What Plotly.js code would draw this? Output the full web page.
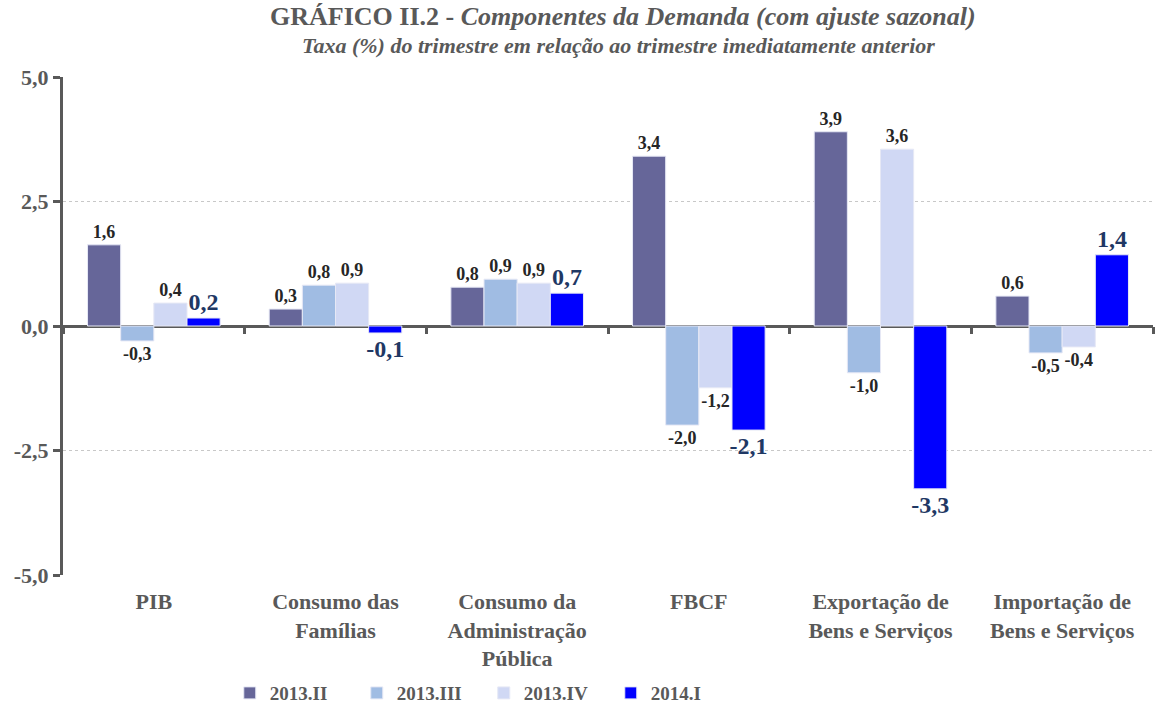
<!DOCTYPE html>
<html>
<head>
<meta charset="utf-8">
<script src="https://cdn.plot.ly/plotly-3.0.1.min.js"></script>
<style>html,body{margin:0;padding:0;background:#fff;}#chart{width:1155px;height:710px;}</style>
</head>
<body>
<div id="chart"></div>
<script>
var categories = ["PIB", "Consumo das<br>Famílias", "Consumo da<br>Administração<br>Pública", "FBCF", "Exportação de<br>Bens e Serviços", "Importação de<br>Bens e Serviços"];
var seriesNames = ["2013.II", "2013.III", "2013.IV", "2014.I"];
var v2013II  = [1.63, 0.34, 0.78, 3.41, 3.90, 0.60];
var v2013III = [-0.30, 0.82, 0.94, -1.99, -0.94, -0.54];
var v2013IV  = [0.46, 0.86, 0.86, -1.24, 3.55, -0.42];
var v2014I   = [0.16, -0.14, 0.66, -2.09, -3.27, 1.43];
var lab2013II  = ["1,6", "0,3", "0,8", "3,4", "3,9", "0,6"];
var lab2013III = ["-0,3", "0,8", "0,9", "-2,0", "-1,0", "-0,5"];
var lab2013IV  = ["0,4", "0,9", "0,9", "-1,2", "3,6", "-0,4"];
var lab2014I   = ["0,2", "-0,1", "0,7", "-2,1", "-3,3", "1,4"];
var yTicks = [-5, -2.5, 0, 2.5, 5];
var yTickLabels = ["-5,0", "-2,5", "0,0", "2,5", "5,0"];
var titleText = "GRÁFICO II.2 - <i>Componentes da Demanda (com ajuste sazonal)</i>";
var subtitleText = "<i>Taxa (%) do trimestre em relação ao trimestre imediatamente anterior</i>";

var colors = ["#666699", "#A0BCE3", "#D0D8F4", "#0000FF"];
var values = [v2013II, v2013III, v2013IV, v2014I];
var labels = [lab2013II, lab2013III, lab2013IV, lab2014I];
var serif = "Liberation Serif, serif";

var traces = values.map(function (v, i) {
  var last = i === 3;
  return {
    type: "bar",
    name: seriesNames[i],
    x: categories,
    y: v,
    text: labels[i],
    textposition: "outside",
    constraintext: "none",
    cliponaxis: false,
    textfont: {family: serif, size: last ? 24 : 18, color: last ? "#1F3864" : "#262626", weight: "bold"},
    marker: {color: colors[i], line: {color: "#E6E8F5", width: 1}},
    hoverinfo: "skip"
  };
});
// helper trace for category ticks on the zero line
traces.push({
  type: "bar", x: categories, y: categories.map(function(){return null;}),
  xaxis: "x2", yaxis: "y", showlegend: false, hoverinfo: "skip"
});

var layout = {
  width: 1155, height: 710,
  margin: {l: 63, r: 2, t: 77, b: 135, autoexpand: false},
  paper_bgcolor: "#fff", plot_bgcolor: "#fff",
  separators: ",.",
  barmode: "group",
  bargap: 0.27,
  bargroupgap: 0,
  showlegend: true,
  annotations: [
    {text: titleText, xref: "paper", yref: "paper", x: 0.514, y: 1.1205, xanchor: "center", yanchor: "middle",
     showarrow: false, font: {family: serif, size: 26, color: "#595959", weight: "bold"}},
    {text: subtitleText, xref: "paper", yref: "paper", x: 0.510, y: 1.064, xanchor: "center", yanchor: "middle",
     showarrow: false, font: {family: serif, size: 22, color: "#595959", weight: "bold"}}
  ],
  xaxis: {
    type: "category",
    showline: false, ticks: "", showgrid: false, zeroline: false,
    tickfont: {family: serif, size: 22, color: "#595959", weight: "bold"},
    ticklabelstandoff: 11,
    automargin: false
  },
  xaxis2: {
    type: "category", overlaying: "x", matches: "x", anchor: "free", position: 0.5,
    side: "bottom", showticklabels: false, showline: false, showgrid: false,
    ticks: "outside", tickson: "boundaries", ticklen: 7, tickwidth: 3, tickcolor: "#595959"
  },
  yaxis: {
    range: [-5, 5],
    tickvals: yTicks, ticktext: yTickLabels,
    showline: true, linecolor: "#595959", linewidth: 3,
    ticks: "outside", ticklen: 7, tickwidth: 3, tickcolor: "#595959",
    showgrid: true, gridcolor: "#C8C8C8", griddash: "dot", gridwidth: 1,
    zeroline: true, zerolinecolor: "#595959", zerolinewidth: 3,
    tickfont: {family: serif, size: 22, color: "#595959", weight: "bold"},
    automargin: false
  },
  legend: {
    orientation: "h", x: 0.153, xanchor: "left", y: -0.237, yanchor: "middle",
    entrywidth: 82, entrywidthmode: "pixels",
    font: {family: serif, size: 19, color: "#595959", weight: "bold"},
    itemclick: false, itemdoubleclick: false
  }
};

Plotly.newPlot("chart", traces, layout, {staticPlot: true, displayModeBar: false});
</script>
</body>
</html>
